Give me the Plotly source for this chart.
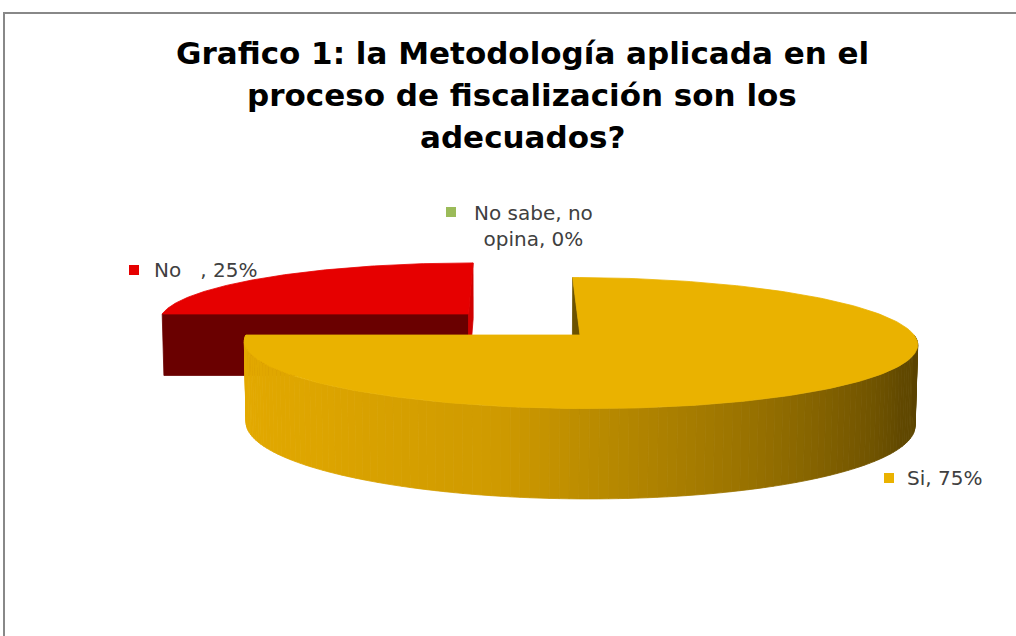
import numpy as np
import plotly.graph_objects as go

# ---- data -------------------------------------------------------------
categories = ["Si", "No   ", "No sabe, no opina"]
percent = [75, 25, 0]
label_names = ["Si", "No\u00a0\u00a0\u00a0", "No sabe, no<br>opina"]

# ---- styling ----------------------------------------------------------
top_colors = ["#EAB200", "#E60000", "#9BBB59"]
rim_base = [(236, 176, 0), (200, 0, 0), (130, 160, 80)]
start_face_colors = ["#6B5200", "#6A0000", "#5F7A30"]
end_face_colors = ["#6B5200", "#D00000", "#5F7A30"]
explode = [0.0, 0.48, 0.0]
radius_scale = [1.0, 0.955, 1.0]
height_scale = [1.0, 0.8, 1.0]

# ---- 3-D pie projection ----------------------------------------------
TILT = np.radians(12.0)
DIST = 8.0
SCALE = 333.0
HEIGHT = 0.245
CAM_X = -0.2
HC = HEIGHT / 2
CENTER_PX = (580.0, 335.0)


def raw_proj(u, v, h):
    depth = DIST + v * np.cos(TILT) - (h - HC) * np.sin(TILT)
    x = SCALE * DIST * (u - CAM_X) / depth
    y = -SCALE * DIST * (v * np.sin(TILT) + (h - HC) * np.cos(TILT)) / depth
    return x, y


_x0, _y0 = raw_proj(0.0, 0.0, HEIGHT)


def proj(u, v, h):
    x, y = raw_proj(np.asarray(u, float), np.asarray(v, float), h)
    return x - _x0 + CENTER_PX[0], y - _y0 + CENTER_PX[1]


cam = np.array([CAM_X, -DIST * np.cos(TILT), HC + DIST * np.sin(TILT)])

shade_stops_a = [180, 220, 255, 290, 315, 335, 360]
shade_stops_f = [0.97, 0.94, 0.88, 0.68, 0.52, 0.41, 0.38]

fig = go.Figure()


def add_poly(xs, ys, color):
    fig.add_trace(go.Scatter(
        x=list(xs) + [xs[0]], y=list(ys) + [ys[0]], mode="lines",
        fill="toself", fillcolor=color,
        line=dict(color=color, width=0.8),
        hoverinfo="skip", showlegend=False))


# slice angles: start at 12 o'clock and run clockwise
total = float(sum(percent))
spans = []
acc = 0.0
for p in percent:
    a_hi = 90.0 - acc / total * 360.0
    a_lo = a_hi - p / total * 360.0
    spans.append((a_hi, a_lo))
    acc += p

# slices further from the viewer are painted first
order = sorted(range(len(percent)),
               key=lambda i: -np.sin(np.radians(sum(spans[i]) / 2)) * (percent[i] > 0))

for i in order:
    a_hi, a_lo = spans[i]
    if percent[i] <= 0:
        continue
    r = radius_scale[i]
    top_h = HEIGHT * height_scale[i]
    mid = np.radians((a_hi + a_lo) / 2)
    cu, cv = explode[i] * np.cos(mid), explode[i] * np.sin(mid)

    # radial faces
    for a, sign, col in ((a_hi, 1, start_face_colors[i]), (a_lo, -1, end_face_colors[i])):
        ar = np.radians(a)
        normal = np.array([-np.sin(ar), np.cos(ar)]) * sign
        to_cam = cam[:2] - np.array([cu + 0.5 * r * np.cos(ar), cv + 0.5 * r * np.sin(ar)])
        if normal @ to_cam <= 0:
            continue
        eu, ev = cu + r * np.cos(ar), cv + r * np.sin(ar)
        xt0, yt0 = proj(cu, cv, HEIGHT)
        xt1, yt1 = proj(eu, ev, HEIGHT)
        xb1, yb1 = proj(eu, ev, HEIGHT - top_h)
        xb0, yb0 = proj(cu, cv, HEIGHT - top_h)
        add_poly([xt0, xt1, xb1, xb0], [yt0, yt1, yb1, yb0], col)

    # front part of the outer rim, shaded by angle
    lo = np.mod(a_lo, 360.0)
    hi = lo + (a_hi - a_lo)
    r0, r1 = max(lo, 180.0), min(hi, 360.0)
    if r1 > r0:
        n = max(2, int((r1 - r0) / 1.5))
        edges = np.linspace(r0, r1, n + 1)
        for k in range(n):
            seg = np.radians(np.linspace(edges[k], edges[k + 1], 3))
            us, vs = cu + r * np.cos(seg), cv + r * np.sin(seg)
            xt, yt = proj(us, vs, HEIGHT)
            xb, yb = proj(us, vs, HEIGHT - top_h)
            f = np.interp((edges[k] + edges[k + 1]) / 2, shade_stops_a, shade_stops_f)
            rgb = tuple(int(round(c * f)) for c in rim_base[i])
            add_poly(list(xt) + list(xb[::-1]), list(yt) + list(yb[::-1]),
                     "rgb(%d,%d,%d)" % rgb)

    # top face
    ang = np.radians(np.linspace(a_hi, a_lo, 200))
    xs, ys = proj(cu + r * np.cos(ang), cv + r * np.sin(ang), HEIGHT)
    xc, yc = proj(cu, cv, HEIGHT)
    add_poly([xc] + list(xs), [yc] + list(ys), top_colors[i])

# ---- data labels with colour keys ------------------------------------
label_pos = [(905, 478, "left"), (152, 270, "left"), (533, 226, "center")]
key_pos = [(889, 478), (134, 270), (451, 212)]
for i in range(len(percent)):
    lx, ly, al = label_pos[i]
    fig.add_annotation(x=lx, y=ly, xref="x", yref="y", showarrow=False,
                       text=f"{label_names[i]}, {percent[i]}%",
                       xanchor=al, yanchor="middle", align="center",
                       font=dict(family="DejaVu Sans", size=20, color="#404040"))
    fig.add_trace(go.Scatter(x=[key_pos[i][0]], y=[key_pos[i][1]], mode="markers",
                             marker=dict(symbol="square", size=10, color=top_colors[i]),
                             hoverinfo="skip", showlegend=False))

# ---- title ------------------------------------------------------------
title_lines = ["Grafico 1: la Metodología aplicada en el",
               "proceso de fiscalización son los",
               "adecuados?"]
for k, line in enumerate(title_lines):
    fig.add_annotation(x=522, y=53 + 42 * k, xref="x", yref="y", showarrow=False,
                       text=f"<b>{line}</b>", xanchor="center", yanchor="middle",
                       font=dict(family="DejaVu Sans", size=31, color="#000000"))

# chart frame
fig.add_shape(type="rect", x0=4, y0=13, x1=1040, y1=700, xref="x", yref="y",
              line=dict(color="#888888", width=2), fillcolor="rgba(0,0,0,0)")

fig.update_xaxes(range=[0, 1016], visible=False, fixedrange=True)
fig.update_yaxes(range=[636, 0], visible=False, fixedrange=True)
fig.update_layout(width=1016, height=636, margin=dict(l=0, r=0, t=0, b=0),
                  paper_bgcolor="white", plot_bgcolor="white", showlegend=False)

fig.write_html("out.html")
